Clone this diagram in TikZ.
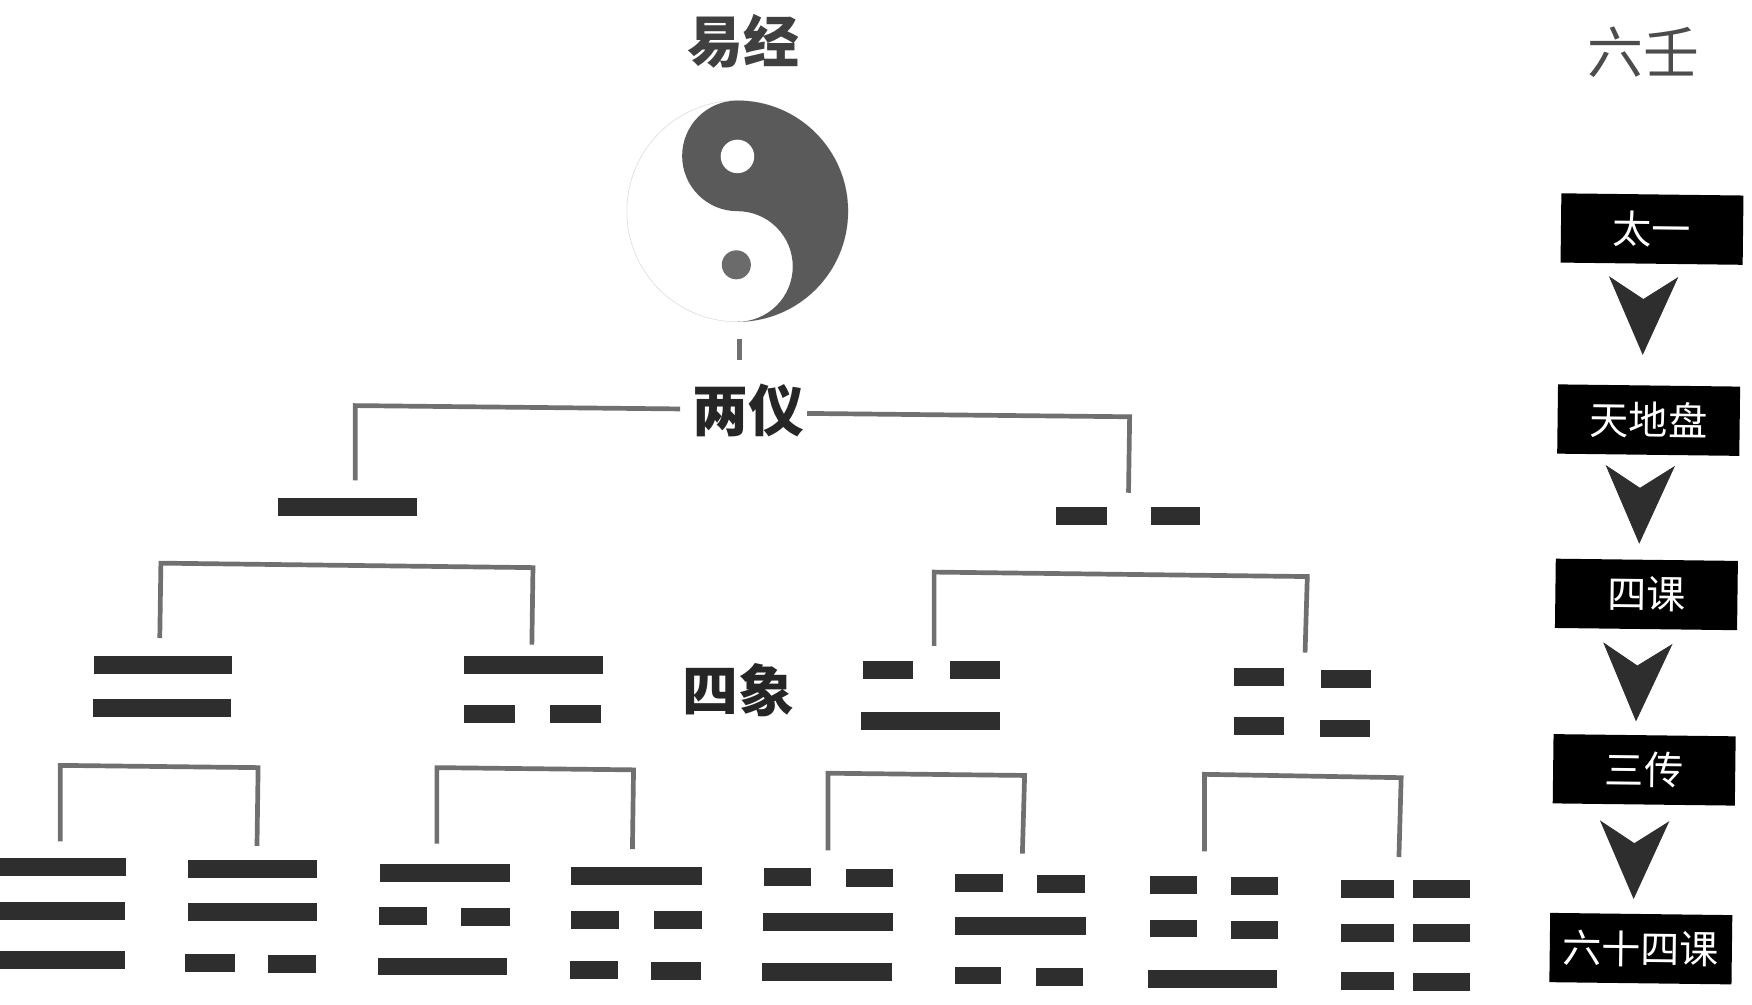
\documentclass[tikz,border=0pt]{standalone}
\usepackage{fontspec}
\usetikzlibrary{arrows.meta}
\newfontfamily\cjk{Noto Sans CJK SC}
\definecolor{barink}{HTML}{2E2E2E}
\definecolor{lineink}{HTML}{707070}
\definecolor{taiji}{HTML}{5A5A5A}
\tikzset{
  barbox/.style={fill=barink,draw=none,inner sep=0pt,outer sep=0pt,rectangle},
  bracket/.style={draw=lineink,line width=2.1pt,line join=miter},
  titletext/.style={font=\cjk\fontsize{25}{25}\selectfont,text=black!80,inner sep=0pt},
  headtext/.style={font=\cjk\bfseries\fontsize{25}{25}\selectfont,text=black!85,inner sep=0pt},
  blackbox/.style={fill=black,text=white,minimum width=81.5pt,minimum height=31pt,inner sep=0pt,rotate=-0.7,font=\cjk\fontsize{17.5}{17.5}\selectfont},
  flow/.style={draw=barink,fill=barink,line width=0.4pt,-{Stealth[length=35pt,width=31pt,inset=10pt,fill=barink]}}
}
% name, x1, x2, y1, y2
\newcommand{\hexbar}[5]{%
  \pgfmathsetmacro{\bw}{(#3-#2)*0.5}%
  \pgfmathsetmacro{\bh}{(#5-#4)*0.5}%
  \pgfmathsetmacro{\bx}{(#2+#3)/2}%
  \pgfmathsetmacro{\by}{(#4+#5)/2}%
  \node[barbox,minimum width=\bw pt,minimum height=\bh pt] (#1) at (\bx,\by) {};}
% name, four points
\newcommand{\brk}[5]{%
  \coordinate (#1a) at (#2);\coordinate (#1b) at (#3);\coordinate (#1c) at (#4);\coordinate (#1d) at (#5);
  \draw[bracket] (#1a) -- (#1b) -- (#1c) -- (#1d);}
\begin{document}
\begin{tikzpicture}[x=0.5pt,y=-0.5pt]
\useasboundingbox[fill=white] (0,0) rectangle (1568,899.4);

% Titles
\node[titletext,font=\cjk\bfseries\fontsize{25}{25}\selectfont,text=black!75] (yijing) at (665,37) {易经};
\node[titletext,text=black!70] (liuren) at (1471,47) {六壬};
\node[headtext] (liangyi) at (670,367) {两仪};
\node[headtext] (sixiang) at (661,618) {四象};

% Taiji
\draw[black!12,line width=0.3pt] (660,189) circle[radius=99];
\fill[taiji] (660,90) arc[start angle=-90,end angle=90,radius=99]
  arc[start angle=90,end angle=-90,radius=49.5]
  arc[start angle=90,end angle=270,radius=49.5] -- cycle;
\node[circle,fill=white,minimum size=15pt,inner sep=0pt] (eyeA) at (660,140) {};
\node[circle,fill=black!58,minimum size=13pt,inner sep=0pt] (eyeB) at (659,237) {};

% Stub under taiji
\coordinate (stubA) at (662,303);
\coordinate (stubB) at (662,322);
\draw[bracket] (stubA) -- (stubB);

% Brackets, top level
\coordinate (lyL1) at (318,363);\coordinate (lyL2) at (318,430);
\coordinate (lyR1) at (1011,373);\coordinate (lyR2) at (1010,441);
\draw[bracket] (liangyi.west |- 0,366) ++(-11,0) -- (lyL1) -- (lyL2);
\draw[bracket] (liangyi.east |- 0,370) ++(2,0) -- (lyR1) -- (lyR2);

% Brackets
\brk{bA}{143,571}{144,504}{477,508}{476,577}
\brk{bB}{836,578}{836,512}{1170,516}{1168,584}
\brk{cA}{54,753}{54,685}{231,687}{230,757}
\brk{cB}{391,755}{391,687}{567,689}{566,760}
\brk{cC}{741,761}{741,692}{917,694}{915,764}
\brk{cD}{1078,762}{1078,693}{1254,696}{1252,767}

% Level 1
\hexbar{yang}{249}{373}{446}{462}
\hexbar{yinL}{945}{991}{454}{470}
\hexbar{yinR}{1030}{1074}{454}{470}

% Level 2
\hexbar{sa1}{84}{208}{587}{603}
\hexbar{sa2}{83}{207}{626}{642}
\hexbar{sb1}{415}{540}{587}{603}
\hexbar{sb2}{415}{461}{631}{647}
\hexbar{sb3}{492}{538}{631}{647}
\hexbar{sc1}{772}{817}{592}{608}
\hexbar{sc2}{850}{895}{592}{608}
\hexbar{sc3}{771}{895}{637}{653}
\hexbar{sd1}{1104}{1149}{598}{614}
\hexbar{sd2}{1182}{1227}{600}{616}
\hexbar{sd3}{1104}{1149}{642}{658}
\hexbar{sd4}{1181}{1226}{644}{660}

% Level 3
\hexbar{ta1}{0}{113}{768}{784}
\hexbar{ta2}{0}{112}{807}{823}
\hexbar{ta3}{0}{112}{851}{867}
\hexbar{tb1}{168}{284}{770}{786}
\hexbar{tb2}{168}{284}{808}{824}
\hexbar{tb3}{166}{210}{854}{870}
\hexbar{tb4}{240}{283}{855}{871}
\hexbar{tc1}{340}{456}{773}{789}
\hexbar{tc2}{339}{382}{812}{828}
\hexbar{tc3}{413}{456}{813}{829}
\hexbar{tc4}{338}{454}{857}{873}
\hexbar{td1}{511}{628}{776}{792}
\hexbar{td2}{511}{554}{815}{831}
\hexbar{td3}{585}{628}{815}{831}
\hexbar{td4}{510}{553}{860}{876}
\hexbar{td5}{583}{627}{861}{877}
\hexbar{te1}{684}{726}{777}{793}
\hexbar{te2}{757}{799}{778}{794}
\hexbar{te3}{683}{799}{817}{833}
\hexbar{te4}{682}{798}{862}{878}
\hexbar{tf1}{855}{898}{782}{798}
\hexbar{tf2}{928}{971}{783}{799}
\hexbar{tf3}{855}{972}{821}{837}
\hexbar{tf4}{855}{896}{865}{881}
\hexbar{tf5}{927}{969}{866}{882}
\hexbar{tg1}{1029}{1071}{784}{800}
\hexbar{tg2}{1102}{1144}{785}{801}
\hexbar{tg3}{1029}{1071}{823}{839}
\hexbar{tg4}{1102}{1144}{824}{840}
\hexbar{tg5}{1027}{1143}{868}{884}
\hexbar{th1}{1200}{1248}{788}{804}
\hexbar{th2}{1265}{1316}{788}{804}
\hexbar{th3}{1200}{1248}{827}{843}
\hexbar{th4}{1265}{1316}{827}{843}
\hexbar{th5}{1200}{1248}{870}{886}
\hexbar{th6}{1265}{1316}{871}{887}

% Liuren column
\node[blackbox] (ka) at (1478.5,205) {太一};
\node[blackbox] (kb) at (1475.5,376) {天地盘};
\node[blackbox] (kc) at (1473.5,532) {四课};
\node[blackbox] (kd) at (1471.5,689) {三传};
\node[blackbox] (ke) at (1468.5,849) {六十四课};

\draw[flow,shorten <=16.5pt,shorten >=13.5pt] ([xshift=-3.5pt]ka.south) -- ([xshift=-3pt]kb.north);
\draw[flow,shorten <=15.5pt,shorten >=7pt] ([xshift=-3.5pt]kb.south) -- ([xshift=-3.5pt]kc.north);
\draw[flow,shorten <=17pt,shorten >=6pt] ([xshift=-3.5pt]kc.south) -- ([xshift=-4pt]kd.north);
\draw[flow,shorten <=18pt,shorten >=6.5pt] ([xshift=-4pt]kd.south) -- ([xshift=-3.5pt]ke.north);
\end{tikzpicture}
\end{document}
